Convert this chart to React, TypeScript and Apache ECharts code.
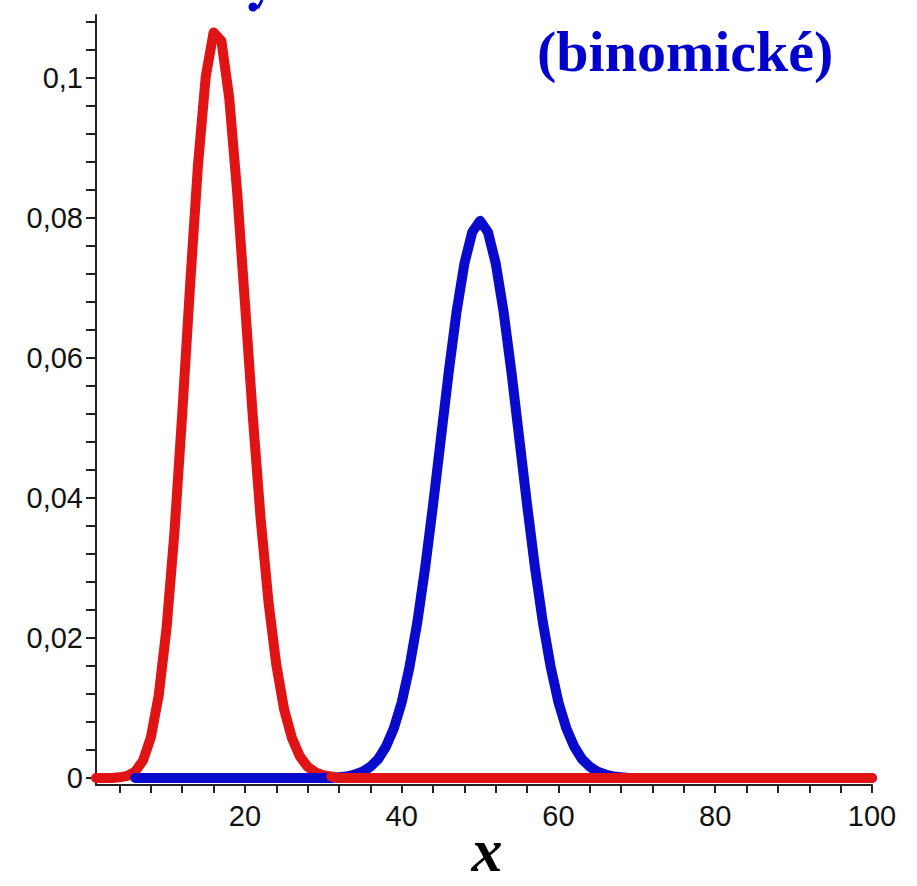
import React, { useEffect, useRef } from "react";
import * as echarts from "echarts";

const xValues: number[] = Array.from({ length: 100 }, (_, i) => i + 1);

// red curve (values read at x = 1..100)
const redValues: number[] = [
  0, 0, 0, 0.0001, 0.0003, 0.0009, 0.0025, 0.0058, 0.0118, 0.0214,
  0.035, 0.052, 0.0703, 0.0874, 0.1002, 0.1065, 0.1053, 0.0971, 0.0838, 0.0679,
  0.0517, 0.0371, 0.0252, 0.0162, 0.0098, 0.0057, 0.0031, 0.0016, 0.0008, 0.0004,
  0.0002, 0, 0, 0, 0, 0, 0, 0, 0, 0,
  0, 0, 0, 0, 0, 0, 0, 0, 0, 0,
  0, 0, 0, 0, 0, 0, 0, 0, 0, 0,
  0, 0, 0, 0, 0, 0, 0, 0, 0, 0,
  0, 0, 0, 0, 0, 0, 0, 0, 0, 0,
  0, 0, 0, 0, 0, 0, 0, 0, 0, 0,
  0, 0, 0, 0, 0, 0, 0, 0, 0, 0,
];

// blue curve (values read at x = 1..100)
const blueValues: number[] = [
  0, 0, 0, 0, 0, 0, 0, 0, 0, 0,
  0, 0, 0, 0, 0, 0, 0, 0, 0, 0,
  0, 0, 0, 0, 0, 0, 0, 0, 0, 0,
  0, 0.0001, 0.0002, 0.0005, 0.0009, 0.0016, 0.0027, 0.0045, 0.0071, 0.0108,
  0.0159, 0.0223, 0.0301, 0.039, 0.0485, 0.058, 0.0666, 0.0735, 0.078, 0.0796,
  0.078, 0.0735, 0.0666, 0.058, 0.0485, 0.039, 0.0301, 0.0223, 0.0159, 0.0108,
  0.0071, 0.0045, 0.0027, 0.0016, 0.0009, 0.0005, 0.0002, 0.0001, 0, 0,
  0, 0, 0, 0, 0, 0, 0, 0, 0, 0,
  0, 0, 0, 0, 0, 0, 0, 0, 0, 0,
  0, 0, 0, 0, 0, 0, 0, 0, 0, 0,
];

const xTickValues: number[] = [4, 8, 12, 16, 20, 24, 28, 32, 36, 40, 44, 48, 52, 56, 60, 64, 68, 72, 76, 80, 84, 88, 92, 96, 100];
const xLabelValues: number[] = [20, 40, 60, 80, 100];
const yTickValues: number[] = [
  0, 0.004, 0.008, 0.012, 0.016, 0.02, 0.024, 0.028, 0.032, 0.036, 0.04, 0.044, 0.048, 0.052,
  0.056, 0.06, 0.064, 0.068, 0.072, 0.076, 0.08, 0.084, 0.088, 0.092, 0.096, 0.1, 0.104, 0.108,
];
const yLabelValues: number[] = [0, 0.02, 0.04, 0.06, 0.08, 0.1];

const titleText = "(binomické)";
const xAxisTitle = "x";

const RED = "#e01414";
const BLUE = "#0a0acc";

export default function App() {
  const ref = useRef<HTMLDivElement>(null);
  useEffect(() => {
    if (!ref.current) return;
    const chart = echarts.init(ref.current, null, { renderer: "svg" });
    const pts = (vals: number[], from: number, to: number) =>
      xValues.slice(from - 1, to).map((x, i) => [x, vals[from - 1 + i]]);
    const lineSeries = (name: string, data: number[][], color: string, z: number) => ({
      type: "line",
      name,
      data,
      showSymbol: false,
      symbol: "none",
      z,
      lineStyle: { color, width: 10, join: "round", cap: "round" },
      emphasis: { disabled: true },
    });
    chart.setOption({
      animation: false,
      backgroundColor: "#ffffff",
      grid: { left: 96, right: 45, top: 15, bottom: 101 },
      xAxis: {
        type: "value",
        min: 1,
        max: 100,
        axisLine: { show: true, onZero: false, lineStyle: { color: "#222", width: 2 } },
        axisTick: { show: true, customValues: xTickValues, length: 8, lineStyle: { color: "#222", width: 2 } },
        axisLabel: {
          customValues: xLabelValues,
          margin: 16,
          fontSize: 29,
          color: "#111",
          fontFamily: "Liberation Sans, Arial, sans-serif",
        },
        splitLine: { show: false },
      },
      yAxis: {
        type: "value",
        min: -0.001,
        max: 0.109,
        axisLine: { show: true, onZero: false, lineStyle: { color: "#222", width: 2 } },
        axisTick: { show: true, customValues: yTickValues, length: 10, lineStyle: { color: "#222", width: 2 } },
        axisLabel: {
          customValues: yLabelValues,
          margin: 13,
          fontSize: 29,
          color: "#111",
          fontFamily: "Liberation Sans, Arial, sans-serif",
          formatter: (v: number) => (v === 0 ? "0" : String(v).replace(".", ",")),
        },
        splitLine: { show: false },
      },
      series: [
        lineSeries("red-left", pts(redValues, 1, 31), RED, 2),
        lineSeries("blue", pts(blueValues, 6, 100), BLUE, 3),
        lineSeries("red-right", pts(redValues, 31, 100), RED, 4),
      ],
      graphic: [
        {
          type: "text",
          left: 537,
          top: 22,
          style: {
            text: titleText,
            fontSize: 58,
            fontWeight: "bold",
            fontFamily: "Liberation Serif, Times New Roman, serif",
            fill: "#0000cc",
          },
        },
        {
          type: "text",
          x: 487,
          y: 850,
          style: {
            text: xAxisTitle,
            fontSize: 62,
            fontWeight: "bold",
            fontStyle: "italic",
            fontFamily: "Liberation Serif, Times New Roman, serif",
            fill: "#000",
            align: "center",
            verticalAlign: "middle",
          },
        },
        // fragment of a glyph cut off at the top edge (drawn as shapes)
        {
          type: "bezierCurve",
          shape: { x1: 252, y1: 8, x2: 258, y2: 8, cpx1: 256, cpy1: 9, cpx2: 260, cpy2: 4 },
          style: { stroke: "#0000cc", lineWidth: 3, fill: null },
        },
        {
          type: "bezierCurve",
          shape: { x1: 257, y1: 8, x2: 262, y2: 0, cpx1: 259, cpy1: 6, cpx2: 261, cpy2: 3 },
          style: { stroke: "#0000cc", lineWidth: 3, fill: null },
        },
        {
          type: "circle",
          shape: { cx: 253, cy: 7, r: 4.5 },
          style: { fill: "#0000cc" },
        },
      ],
    });
    return () => chart.dispose();
  }, []);
  return (
    <div
      ref={ref}
      style={{ position: "absolute", left: 0, top: 0, width: 917, height: 886, background: "#fff" }}
    />
  );
}
